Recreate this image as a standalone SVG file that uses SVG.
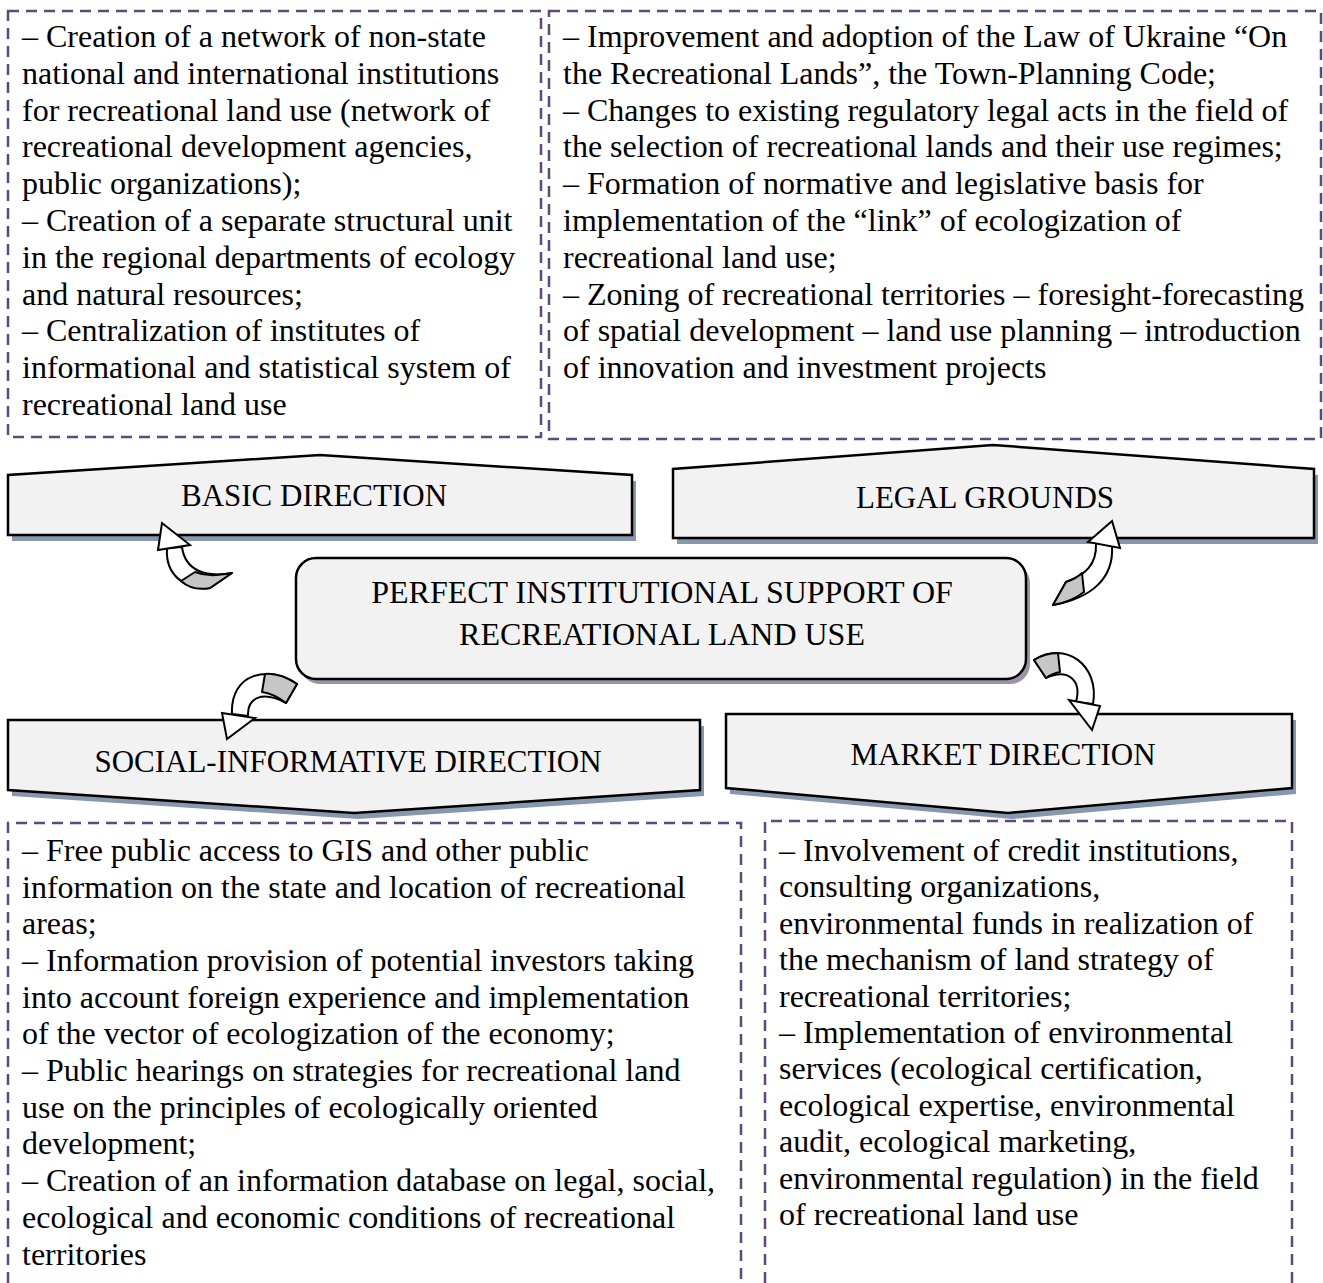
<svg xmlns="http://www.w3.org/2000/svg" width="1323" height="1283" viewBox="0 0 1323 1283">
<defs>
<style>
.t{font-family:"Liberation Serif","Times New Roman",serif;font-size:32px;fill:#000}
.lbl{font-family:"Liberation Serif","Times New Roman",serif;font-size:31px;fill:#000;text-anchor:middle}
.ctr{font-family:"Liberation Serif","Times New Roman",serif;font-size:32px;fill:#000;text-anchor:middle}
.dash{fill:none;stroke:#5F497A;stroke-width:2.5;stroke-dasharray:11 7}
.shape{fill:#F2F2F2;stroke:#000;stroke-width:2.5;stroke-linejoin:miter}
.shd{fill:#8797AE}
.shd2{fill:#9C93A8}
.band{fill:#fff;stroke:#000;stroke-width:2;stroke-linejoin:round}
.grey{fill:#C6C6C6;stroke:#000;stroke-width:2;stroke-linejoin:round}
.head{fill:#fff;stroke:#000;stroke-width:2;stroke-linejoin:miter}
</style>
</defs>
<rect width="1323" height="1283" fill="#fff"/>

<g id="box-basic-text">
<rect class="dash" x="8" y="11" width="533" height="426"/>
<text class="t" x="22" y="47">– Creation of a network of non-state</text>
<text class="t" x="22" y="84">national and international institutions</text>
<text class="t" x="22" y="121">for recreational land use (network of</text>
<text class="t" x="22" y="157">recreational development agencies,</text>
<text class="t" x="22" y="194">public organizations);</text>
<text class="t" x="22" y="231">– Creation of a separate structural unit</text>
<text class="t" x="22" y="268">in the regional departments of ecology</text>
<text class="t" x="22" y="305">and natural resources;</text>
<text class="t" x="22" y="341">– Centralization of institutes of</text>
<text class="t" x="22" y="378">informational and statistical system of</text>
<text class="t" x="22" y="415">recreational land use</text>
</g>

<g id="box-legal-text">
<rect class="dash" x="549" y="11" width="772" height="428"/>
<text class="t" x="563" y="47">– Improvement and adoption of the Law of Ukraine “On</text>
<text class="t" x="563" y="84">the Recreational Lands”, the Town-Planning Code;</text>
<text class="t" x="563" y="121">– Changes to existing regulatory legal acts in the field of</text>
<text class="t" x="563" y="157">the selection of recreational lands and their use regimes;</text>
<text class="t" x="563" y="194">– Formation of normative and legislative basis for</text>
<text class="t" x="563" y="231">implementation of the “link” of ecologization of</text>
<text class="t" x="563" y="268">recreational land use;</text>
<text class="t" x="563" y="305">– Zoning of recreational territories – foresight-forecasting</text>
<text class="t" x="563" y="341">of spatial development – land use planning – introduction</text>
<text class="t" x="563" y="378">of innovation and investment projects</text>
</g>

<g id="basic-direction">
<polygon class="shd" points="324,461 636,481 636,541 12,541 12,481"/>
<polygon class="shape" points="320,455 632,475 632,535 8,535 8,475"/>
<text class="lbl" x="314" y="506">BASIC DIRECTION</text>
</g>

<g id="legal-grounds">
<polygon class="shd" points="997,451 1318,475 1318,544 677,544 677,475"/>
<polygon class="shape" points="993,445 1314,469 1314,538 673,538 673,469"/>
<text class="lbl" x="985" y="508">LEGAL GROUNDS</text>
</g>

<g id="center">
<rect class="shd2" x="300" y="563" width="730" height="121" rx="20"/>
<rect class="shape" x="296" y="558" width="730" height="121" rx="20"/>
<text class="ctr" x="662" y="603">PERFECT INSTITUTIONAL SUPPORT OF</text>
<text class="ctr" x="662" y="645">RECREATIONAL LAND USE</text>
</g>

<g id="social-direction">
<polygon class="shd" points="12,726 704,726 704,796 358,819 12,796"/>
<polygon class="shape" points="8,720 700,720 700,790 354,813 8,790"/>
<text class="lbl" x="348" y="772">SOCIAL-INFORMATIVE DIRECTION</text>
</g>

<g id="market-direction">
<polygon class="shd" points="730,720 1296,720 1296,794 1012,819 730,794"/>
<polygon class="shape" points="726,714 1292,714 1292,788 1008,813 726,788"/>
<text class="lbl" x="1003" y="765">MARKET DIRECTION</text>
</g>

<g id="connectors">
<!-- to BASIC -->
<path class="band" d="M167,548 C165,575 185,590 210,588 L232,573 C205,578 185,570 182,547 Z"/>
<path class="grey" d="M181,581 C190,589 200,590 210,588 L232,573 C215,576 205,576 195,572 Z"/>
<polygon class="head" points="158,550 162,523 190,545"/>
<!-- to LEGAL -->
<path class="band" d="M1112,546 C1114,578 1092,598 1053,605 L1066,582 C1085,575 1097,565 1096,543 Z"/>
<path class="grey" d="M1084,592 C1075,599 1065,603 1053,605 L1066,582 C1072,580 1078,577 1082,573 Z"/>
<polygon class="head" points="1088,542 1112,521 1120,548"/>
<!-- to SOCIAL -->
<path class="band" d="M297,684 C270,665 230,672 232,714 L248,716 C247,698 262,690 286,703 Z"/>
<path class="grey" d="M297,684 C285,676 275,673 265,674 L262,692 C270,693 278,697 286,703 Z"/>
<polygon class="head" points="222,713 255,718 227,739"/>
<!-- to MARKET -->
<path class="band" d="M1034,660 C1065,640 1100,665 1093,704 L1076,702 C1082,680 1068,668 1046,678 Z"/>
<path class="grey" d="M1034,660 C1042,655 1050,653 1058,653 L1060,672 C1055,673 1050,675 1046,678 Z"/>
<polygon class="head" points="1069,700 1100,706 1092,730"/>
</g>

<g id="box-social-text">
<path class="dash" d="M8,1283 L8,823 L741,823 L741,1283"/>
<text class="t" x="22" y="861">– Free public access to GIS and other public</text>
<text class="t" x="22" y="898">information on the state and location of recreational</text>
<text class="t" x="22" y="934">areas;</text>
<text class="t" x="22" y="971">– Information provision of potential investors taking</text>
<text class="t" x="22" y="1008">into account foreign experience and implementation</text>
<text class="t" x="22" y="1044">of the vector of ecologization of the economy;</text>
<text class="t" x="22" y="1081">– Public hearings on strategies for recreational land</text>
<text class="t" x="22" y="1118">use on the principles of ecologically oriented</text>
<text class="t" x="22" y="1154">development;</text>
<text class="t" x="22" y="1191">– Creation of an information database on legal, social,</text>
<text class="t" x="22" y="1228">ecological and economic conditions of recreational</text>
<text class="t" x="22" y="1265">territories</text>
</g>

<g id="box-market-text">
<path class="dash" d="M765,1283 L765,821 L1292,821 L1292,1283"/>
<text class="t" x="779" y="861">– Involvement of credit institutions,</text>
<text class="t" x="779" y="897">consulting organizations,</text>
<text class="t" x="779" y="934">environmental funds in realization of</text>
<text class="t" x="779" y="970">the mechanism of land strategy of</text>
<text class="t" x="779" y="1007">recreational territories;</text>
<text class="t" x="779" y="1043">– Implementation of environmental</text>
<text class="t" x="779" y="1079">services (ecological certification,</text>
<text class="t" x="779" y="1116">ecological expertise, environmental</text>
<text class="t" x="779" y="1152">audit, ecological marketing,</text>
<text class="t" x="779" y="1189">environmental regulation) in the field</text>
<text class="t" x="779" y="1225">of recreational land use</text>
</g>
</svg>
